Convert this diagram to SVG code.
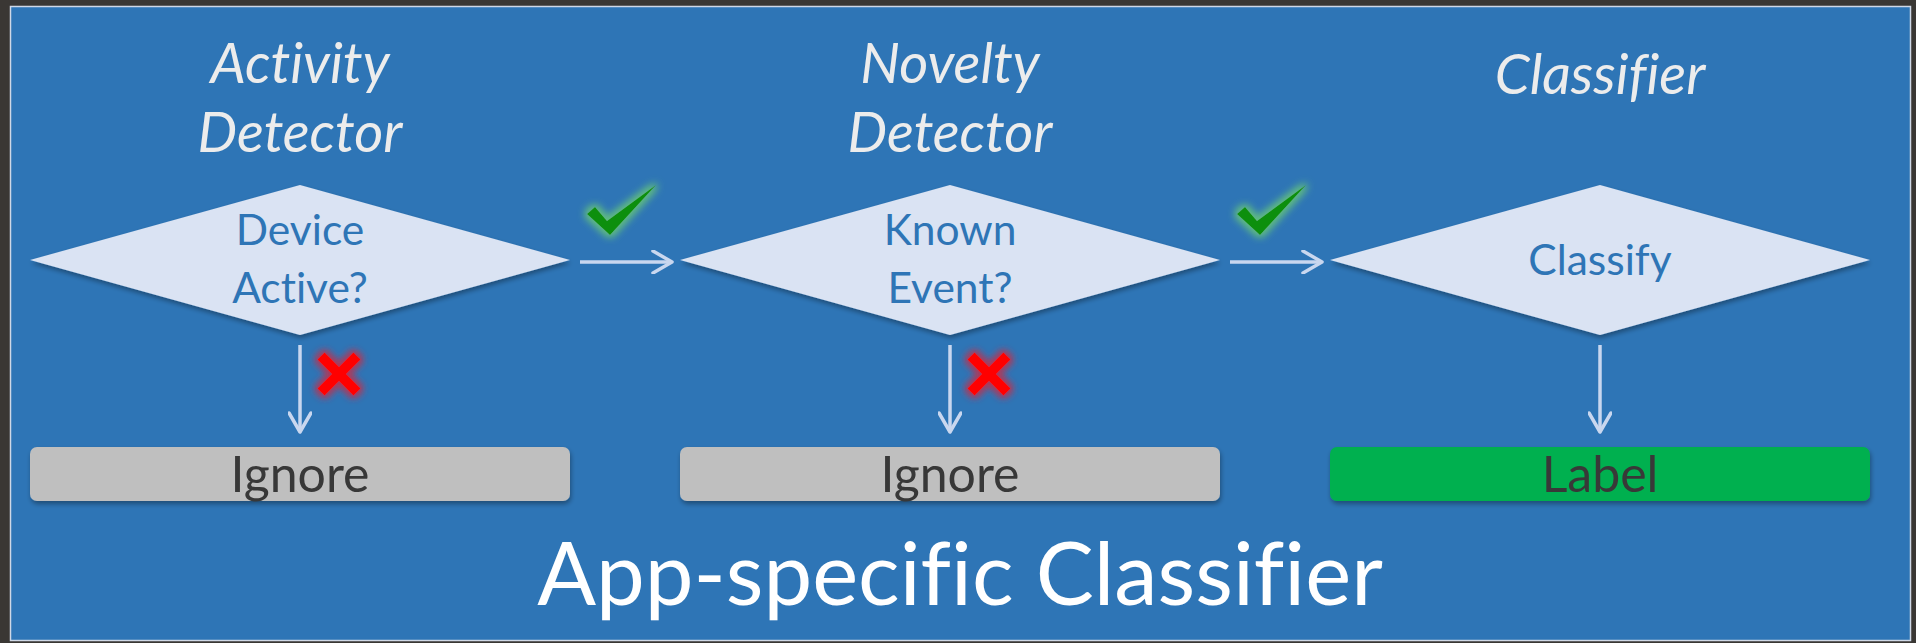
<svg xmlns="http://www.w3.org/2000/svg" width="1916" height="643" viewBox="0 0 1916 643">
  <defs>
    <style>
      text { font-family: Lato, "Open Sans", sans-serif; font-variant-ligatures: none; font-feature-settings: "liga" 0, "clig" 0; }
      .title { font-style: italic; font-size: 56px; fill: #ECECEC; text-anchor: middle; }
      .q { font-size: 42.5px; fill: #2E75B6; text-anchor: middle; }
      .boxtxt { font-size: 50px; fill: #383838; text-anchor: middle; }
      .diamond { fill: #DAE3F3; filter: url(#shadow); }
      .box { filter: url(#shadow); }
      .conn { stroke: #C9D7EF; stroke-width: 3.5; fill: none; }
      .check { fill: #0A8F0A; filter: url(#greenGlow); }
      .cross { stroke: #FF0000; stroke-width: 10; fill: none; filter: url(#redGlow); }
    </style>
    <filter id="shadow" x="-10%" y="-20%" width="120%" height="150%">
      <feGaussianBlur in="SourceAlpha" stdDeviation="2.5"/>
      <feOffset dx="1" dy="3" result="b"/>
      <feComponentTransfer><feFuncA type="linear" slope="0.35"/></feComponentTransfer>
      <feMerge><feMergeNode/><feMergeNode in="SourceGraphic"/></feMerge>
    </filter>
    <filter id="greenGlow" x="-50%" y="-50%" width="200%" height="200%">
      <feMorphology in="SourceAlpha" operator="dilate" radius="3" result="d"/>
      <feGaussianBlur in="d" stdDeviation="3.5" result="g"/>
      <feFlood flood-color="#6FD36F" flood-opacity="0.75"/>
      <feComposite in2="g" operator="in"/>
      <feMerge><feMergeNode/><feMergeNode in="SourceGraphic"/></feMerge>
    </filter>
    <filter id="redGlow" x="-50%" y="-50%" width="200%" height="200%">
      <feMorphology in="SourceAlpha" operator="dilate" radius="2.5" result="d"/>
      <feGaussianBlur in="d" stdDeviation="3" result="g"/>
      <feFlood flood-color="#C0304C" flood-opacity="0.85"/>
      <feComposite in2="g" operator="in"/>
      <feMerge><feMergeNode/><feMergeNode in="SourceGraphic"/></feMerge>
    </filter>
    <marker id="head" viewBox="0 0 24 24" refX="21" refY="12" markerWidth="24" markerHeight="24" markerUnits="userSpaceOnUse" orient="auto">
      <path d="M 2 1 L 21 12 L 2 23" fill="none" stroke="#C9D7EF" stroke-width="3.5" stroke-linecap="round" stroke-linejoin="round"/>
    </marker>
  </defs>

  <!-- frame and panel -->
  <rect x="0" y="0" width="1916" height="643" fill="#3A3734"/>
  <rect x="10.5" y="6.5" width="1900" height="634" fill="#2E75B6" stroke="#CFD8E6" stroke-width="1.5"/>

  <!-- stage titles -->
  <g id="titles">
    <text class="title" x="300" y="83">Activity</text>
    <text class="title" x="300" y="152">Detector</text>
    <text class="title" x="950" y="83">Novelty</text>
    <text class="title" x="950" y="152">Detector</text>
    <text class="title" x="1600" y="94">Classifier</text>
  </g>

  <!-- decision nodes -->
  <g id="node-device-active">
    <polygon class="diamond" points="30,260 300,185 570,260 300,335"/>
    <text class="q" x="300" y="245">Device</text>
    <text class="q" x="300" y="303">Active?</text>
  </g>
  <g id="node-known-event">
    <polygon class="diamond" points="680,260 950,185 1220,260 950,335"/>
    <text class="q" x="950" y="245">Known</text>
    <text class="q" x="950" y="303">Event?</text>
  </g>
  <g id="node-classify">
    <polygon class="diamond" points="1330,260 1600,185 1870,260 1600,335"/>
    <text class="q" x="1600" y="275">Classify</text>
  </g>

  <!-- outcome boxes -->
  <g id="node-ignore-1">
    <rect class="box" x="30" y="447" width="540" height="54" rx="7" fill="#BFBFBF"/>
    <text class="boxtxt" x="300" y="492">Ignore</text>
  </g>
  <g id="node-ignore-2">
    <rect class="box" x="680" y="447" width="540" height="54" rx="7" fill="#BFBFBF"/>
    <text class="boxtxt" x="950" y="492">Ignore</text>
  </g>
  <g id="node-label">
    <rect class="box" x="1330" y="447" width="540" height="54" rx="7" fill="#00B050"/>
    <text class="boxtxt" x="1600" y="492" fill="#262626">Label</text>
  </g>

  <!-- connectors -->
  <g id="connectors">
    <line class="conn" x1="580" y1="262" x2="672" y2="262" marker-end="url(#head)"/>
    <line class="conn" x1="1230" y1="262" x2="1322" y2="262" marker-end="url(#head)"/>
    <line class="conn" x1="300" y1="345" x2="300" y2="432" marker-end="url(#head)"/>
    <line class="conn" x1="950" y1="345" x2="950" y2="432" marker-end="url(#head)"/>
    <line class="conn" x1="1600" y1="345" x2="1600" y2="432" marker-end="url(#head)"/>
  </g>

  <!-- pass / reject marks -->
  <g id="marks">
    <path class="check" d="M 587 214 L 595 207 L 607 221 L 656 185 L 610 235 Z"/>
    <path class="check" d="M 1237 214 L 1245 207 L 1257 221 L 1306 185 L 1260 235 Z"/>
    <path class="cross" d="M 321 356 L 357 392 M 357 356 L 321 392"/>
    <path class="cross" d="M 971 356 L 1007 392 M 1007 356 L 971 392"/>
  </g>

  <!-- caption -->
  <text x="960" y="605" font-size="87" fill="#FFFFFF" text-anchor="middle">App-specific Classifier</text>
</svg>
